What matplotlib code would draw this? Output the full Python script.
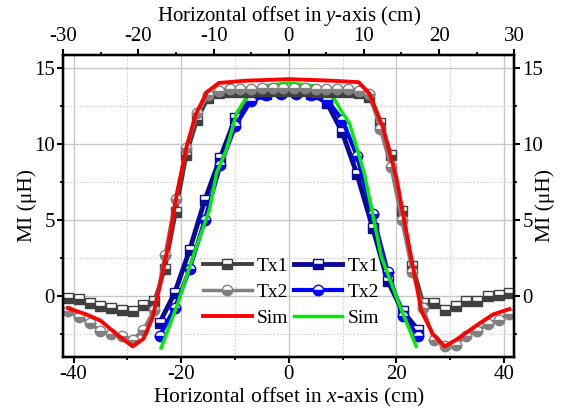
import matplotlib
matplotlib.use("Agg")
import matplotlib.pyplot as plt
from matplotlib.ticker import MultipleLocator

plt.rcParams['font.family'] = ['Liberation Serif', 'DejaVu Serif']
plt.rcParams['font.size'] = 15
plt.rcParams['axes.unicode_minus'] = False
plt.rcParams['mathtext.fontset'] = 'custom'
plt.rcParams['mathtext.rm'] = 'Liberation Serif'
plt.rcParams['mathtext.it'] = 'Liberation Serif:italic'

# x-axis scan (gray / red)
x_gray = [-41, -39, -37, -35, -33, -31, -29, -27, -25, -23, -21, -19, -17, -15,
          -13, -11, -9, -7, -5, -3, -1, 1, 3, 5, 7, 9, 11, 13,
          15, 17, 19, 21, 23, 25, 27, 29, 31, 33, 35, 37, 39, 41]
tx1_gray = [-0.1, -0.22, -0.44, -0.66, -0.77, -0.88, -1.0, -0.55, -0.33, 1.8, 5.5, 9.3, 11.6, 13.0,
            13.35, 13.4, 13.4, 13.4, 13.45, 13.45, 13.45, 13.45, 13.45, 13.4, 13.4, 13.4, 13.4, 13.35,
            13.1, 11.4, 9.3, 5.6, 2.0, -0.44, -0.44, -0.88, -0.66, -0.33, -0.33, 0.0, 0.1, 0.2]
tx2_gray = [-1.0, -1.4, -1.75, -2.3, -2.5, -2.6, -2.85, -2.2, -0.9, 2.7, 6.4, 9.7, 12.0, 13.2,
            13.5, 13.6, 13.6, 13.6, 13.65, 13.65, 13.65, 13.65, 13.65, 13.6, 13.6, 13.6, 13.6, 13.5,
            13.3, 11.0, 8.5, 5.0, 1.6, -0.77, -2.85, -3.3, -3.2, -2.6, -2.3, -1.85, -1.55, -1.2]
x_sim_red = [-41, -37.6, -35, -32, -29, -27, -25.3, -24, -22.4, -20.9, -19, -17.2, -15.2, -13,
             -8, 0, 8, 13, 15, 17.5, 20, 22.5, 24.7, 26.8, 29, 31.2, 35, 38, 41]
sim_red = [-0.8, -1.2, -1.6, -2.5, -3.3, -2.8, -1.4, 0.6, 3.3, 6.5, 9.8, 12.0, 13.4, 14.0,
           14.15, 14.25, 14.15, 14.05, 13.3, 11.1, 7.8, 3.0, -1.0, -2.5, -3.3, -2.85, -1.9, -1.2, -0.85]

# y-axis scan (blue / green)
x_blue = [-24.0, -21.2, -18.4, -15.6, -12.7, -9.9, -7.1, -4.2, -1.4,
          1.4, 4.2, 7.1, 9.9, 12.7, 15.6, 18.4, 21.2, 24.0]
tx1_blue = [-1.75, 0.2, 3.05, 6.3, 9.1, 11.7, 13.2, 13.3, 13.4,
            13.4, 13.3, 12.7, 10.8, 8.0, 4.5, 1.0, -1.0, -2.2]
tx2_blue = [-2.6, -0.8, 1.8, 5.0, 8.6, 11.2, 12.8, 13.2, 13.3,
            13.3, 13.2, 12.9, 11.6, 9.2, 5.4, 1.6, -1.3, -2.6]
x_sim_green = [-23.7, -20.6, -17.8, -14.7, -13.4, -11.6, -9.7, -7.6, -5, 0,
               5, 7.9, 9.7, 11.3, 14.1, 17.2, 20.5, 23.7]
sim_green = [-3.4, -0.45, 2.6, 5.7, 8.1, 9.6, 12.0, 13.2, 13.8, 14.0,
             13.8, 13.3, 12.2, 11.35, 8.0, 2.6, -0.5, -3.3]

fig = plt.figure(figsize=(5.65, 4.09), dpi=100)
ax = fig.add_axes([0.112, 0.127, 0.798, 0.739])

mk = dict(fillstyle='bottom', markerfacecoloralt='white', markeredgewidth=1.0)

h4, = ax.plot(x_blue, tx1_blue, color='#0a0a96', lw=3.5, marker='s', ms=7,
              markerfacecolor='#0a0a96', markeredgecolor='#0a0a96', **mk, label='Tx1')
h5, = ax.plot(x_blue, tx2_blue, color='#0000ff', lw=3, marker='o', ms=7.5,
              markerfacecolor='#0000ff', markeredgecolor='#0000ff', **mk, label='Tx2')
h6, = ax.plot(x_sim_green, sim_green, color='#00ee00', lw=2.5, label='Sim')
h1, = ax.plot(x_gray, tx1_gray, color='#404040', lw=2.8, marker='s', ms=7,
              markerfacecolor='#404040', markeredgecolor='#404040', **mk, label='Tx1')
h2, = ax.plot(x_gray, tx2_gray, color='#808080', lw=2.5, marker='o', ms=7.5,
              markerfacecolor='#808080', markeredgecolor='#808080', **mk, label='Tx2')
h3, = ax.plot(x_sim_red, sim_red, color='#ff0000', lw=2.8, label='Sim')

ax.set_xlim(-41.9, 41.9)
ax.set_ylim(-4, 15.85)
ax.xaxis.set_major_locator(MultipleLocator(20))
ax.xaxis.set_minor_locator(MultipleLocator(10))
ax.yaxis.set_major_locator(MultipleLocator(5))
ax.yaxis.set_minor_locator(MultipleLocator(2.5))
ax.grid(True, which='major', color='#c8c8c8', lw=1.0, ls='-')
ax.grid(True, which='minor', color='#d0d0d0', lw=0.8, ls=(0, (1.5, 1.5)))
ax.set_axisbelow(True)

ax.set_xlabel('Horizontal offset in $\\mathit{x}$-axis (cm)', fontsize=15.5, labelpad=1)
ax.set_ylabel('MI (μH)', fontsize=15.5, labelpad=-2)

ax_r = ax.twinx()
ax_r.set_ylim(ax.get_ylim())
ax_r.yaxis.set_major_locator(MultipleLocator(5))
ax_r.yaxis.set_minor_locator(MultipleLocator(2.5))
ax_r.set_ylabel('MI (μH)', fontsize=15.5, labelpad=-6)

ax_t = ax.twiny()
ax_t.set_xlim(-30, 30)
ax_t.xaxis.set_major_locator(MultipleLocator(10))
ax_t.xaxis.set_minor_locator(MultipleLocator(5))
ax_t.set_xlabel('Horizontal offset in $\\mathit{y}$-axis (cm)', fontsize=15, labelpad=5)

for a in (ax, ax_r, ax_t):
    for s in a.spines.values():
        s.set_linewidth(1.6)
    a.tick_params(which='major', direction='out', length=4, width=1.5, pad=2)
    a.tick_params(which='minor', direction='out', length=2.5, width=1.3)

ax.legend(handles=[h1, h2, h3, h4, h5, h6], ncol=2, loc='center',
          bbox_to_anchor=(0.505, 0.215), frameon=False, handlelength=2.5,
          handletextpad=0.25, columnspacing=0.3, labelspacing=0.42, fontsize=14)

fig.savefig('out.png', dpi=100)
